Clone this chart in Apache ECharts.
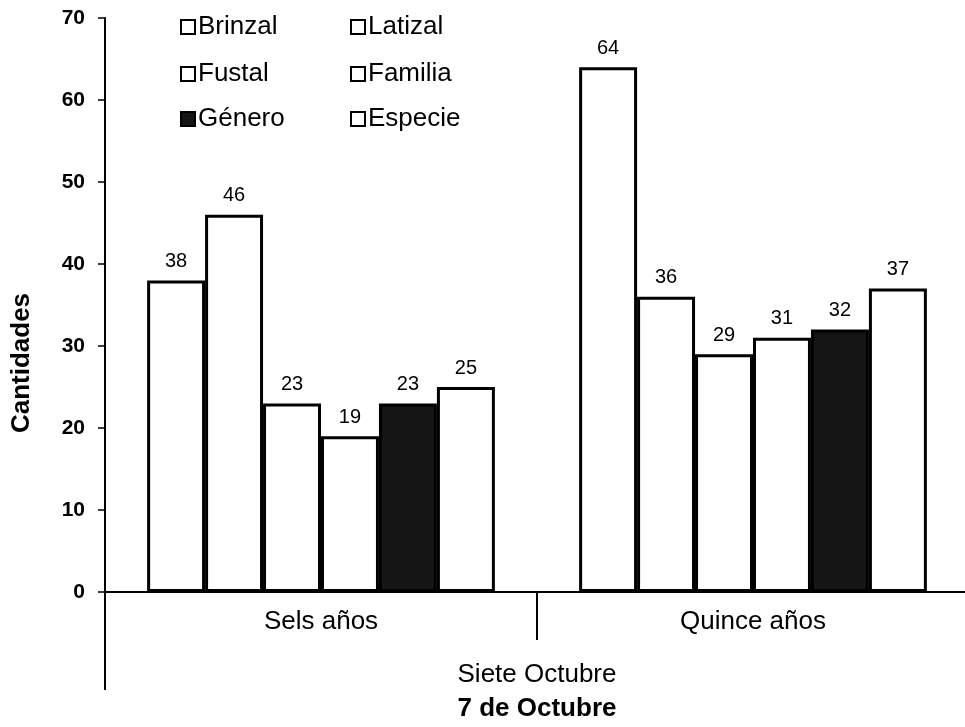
<!DOCTYPE html>
<html>
<head>
<meta charset="utf-8">
<script src="https://cdn.jsdelivr.net/npm/echarts@6/dist/echarts.min.js"></script>
<style>
    html, body { margin: 0; padding: 0; background: #fff; }
    #myChart { width: 965px; height: 727px; }
</style>
</head>
<body>
<div id="myChart"></div>
<script>
const categories = ['Sels años', 'Quince años']
const seriesNames = ['Brinzal', 'Latizal', 'Fustal', 'Familia', 'Género', 'Especie']
const brinzal = [38, 64]
const latizal = [46, 36]
const fustal = [23, 29]
const familia = [19, 31]
const genero = [23, 32]
const especie = [25, 37]
const yTicks = [0, 10, 20, 30, 40, 50, 60, 70]

const font = 'Liberation Sans'
const fills = ['#fff', '#fff', '#fff', '#fff', '#151515', '#fff']
const values = [brinzal, latizal, fustal, familia, genero, especie]

// legend laid out as 2 columns x 3 rows
const legendPos = [
    [180, 14], [350, 14],
    [180, 61], [350, 61],
    [180, 106], [350, 106]
]

const myChart = echarts.init(document.getElementById('myChart'))

myChart.setOption({
    animation: false,
    backgroundColor: '#fff',
    legend: seriesNames.map(function (name, i) {
        return {
            data: [name],
            left: legendPos[i][0],
            top: legendPos[i][1],
            padding: 0,
            itemWidth: 14,
            itemHeight: 14,
            itemGap: 4,
            icon: 'rect',
            textStyle: { fontFamily: font, fontSize: 26, color: '#000', padding: [0, 0, 0, -2] }
        }
    }),
    grid: {
        left: 105,
        top: 18,
        width: 864,
        bottom: 135,
        outerBoundsMode: 'none'
    },
    xAxis: [{
        type: 'category',
        data: categories,
        position: 'bottom',
        axisLine: { lineStyle: { color: '#000', width: 2 } },
        axisTick: { show: true, length: 48, lineStyle: { color: '#000', width: 2 } },
        axisLabel: { fontFamily: font, fontSize: 26, color: '#000', margin: 17 },
        name: 'Siete Octubre',
        nameLocation: 'middle',
        nameGap: 70,
        nameTextStyle: { fontFamily: font, fontSize: 26, color: '#000' }
    }, {
        type: 'category',
        data: [''],
        position: 'bottom',
        axisLine: { show: false },
        axisTick: { show: true, length: 98, lineStyle: { color: '#000', width: 2 } },
        axisLabel: { show: false },
        name: '7 de Octubre',
        nameLocation: 'middle',
        nameGap: 104,
        nameTextStyle: { fontFamily: font, fontSize: 26, fontWeight: 'bold', color: '#000' }
    }],
    yAxis: {
        type: 'value',
        min: yTicks[0],
        max: yTicks[yTicks.length - 1],
        interval: 10,
        axisLine: { show: true, lineStyle: { color: '#000', width: 2 } },
        axisTick: { show: true, length: 7, lineStyle: { color: '#000', width: 1.5 } },
        splitLine: { show: false },
        axisLabel: { fontFamily: font, fontSize: 21, fontWeight: 'bold', color: '#000', margin: 20 },
        name: 'Cantidades',
        nameLocation: 'middle',
        nameGap: 70,
        nameRotate: 90,
        nameTextStyle: { fontFamily: font, fontSize: 26, fontWeight: 'bold', color: '#000', padding: [0, 116, 0, 0] }
    },
    series: seriesNames.map(function (name, i) {
        return {
            name: name,
            type: 'bar',
            data: values[i],
            barGap: '0%',
            barCategoryGap: '19.5%',
            itemStyle: { color: fills[i], borderColor: '#000', borderWidth: 3 },
            label: {
                show: true,
                position: 'top',
                distance: 9,
                fontFamily: font,
                fontSize: 20,
                color: '#000'
            }
        }
    })
})
</script>
</body>
</html>
